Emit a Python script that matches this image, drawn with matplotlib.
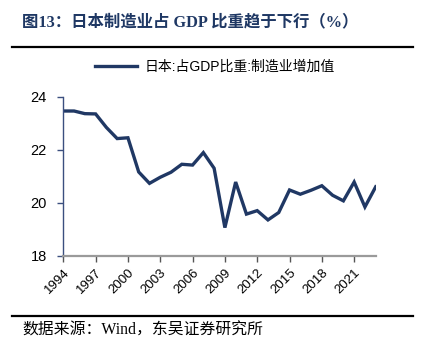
import matplotlib
matplotlib.use("Agg")
import matplotlib.pyplot as plt
from matplotlib.lines import Line2D

years = list(range(1994, 2024))
mfg_share = [23.46, 23.46, 23.36, 23.35, 22.84, 22.42, 22.45, 21.16, 20.73, 20.96,
             21.15, 21.45, 21.42, 21.89, 21.30, 19.06, 20.78, 19.57, 19.70, 19.35,
             19.63, 20.48, 20.32, 20.47, 20.64, 20.28, 20.07, 20.78, 19.84, 20.60]
xticks = list(range(1994, 2022, 3))
yticks = [18, 20, 22, 24]

title = "图13：日本制造业占 GDP 比重趋于下行（%）"
legend_label = "日本:占GDP比重:制造业增加值"
source = "数据来源：Wind，东吴证券研究所"

W, H = 431, 349
fig = plt.figure(figsize=(W / 100, H / 100), dpi=100)

serif = ["Liberation Serif", "Noto Sans CJK SC"]
sans = ["Liberation Sans", "Noto Sans CJK SC"]
navy = "#203864"

# header and footer
fig.text(22 / W, 1 - 22 / H, title, family=serif, fontsize=11.8, fontweight="bold",
         color="#1f3864", va="center", ha="left")
fig.add_artist(Line2D([12 / W, 413 / W], [1 - 47 / H] * 2, color="black", lw=1.6))
fig.add_artist(Line2D([12 / W, 413 / W], [1 - 316 / H] * 2, color="black", lw=1.6))
fig.text(22 / W, 1 - 331 / H, source, family=serif, fontsize=11.4, color="black",
         va="center", ha="left")

# plotting area
left, right, top, bottom = 63.3, 375.7, 96.7, 255.7
ax = fig.add_axes([left / W, 1 - bottom / H, (right - left) / W, (bottom - top) / H])
line, = ax.plot(years, mfg_share, color=navy, lw=2.4, solid_joinstyle="miter")
ax.set_xlim(1994, 2023)
ax.set_ylim(18, 24)
ax.set_xticks(xticks)
ax.set_xticklabels([str(y) for y in xticks], rotation=45, ha="right",
                   rotation_mode="anchor", family=sans, fontsize=9.5)
ax.set_yticks(yticks)
ax.set_yticklabels([str(y) for y in yticks], family=sans, fontsize=10.5)

for s in ("top", "right"):
    ax.spines[s].set_visible(False)
ax.spines["left"].set_color("#3b4f7f")
ax.spines["left"].set_linewidth(1.0)
ax.spines["bottom"].set_color("#9a9a9a")
ax.spines["bottom"].set_linewidth(1.6)
ax.tick_params(axis="y", direction="out", length=4, width=1, color="#3b4f7f", pad=8)
ax.tick_params(axis="x", direction="out", length=4, width=1, color="#555555", pad=4)

fig.legend([line], [legend_label], loc="center", bbox_to_anchor=(215 / W, 1 - 67 / H),
           frameon=False, prop={"family": sans, "size": 10}, handlelength=3.0,
           handletextpad=0.6)

fig.savefig("out.png", dpi=100)
